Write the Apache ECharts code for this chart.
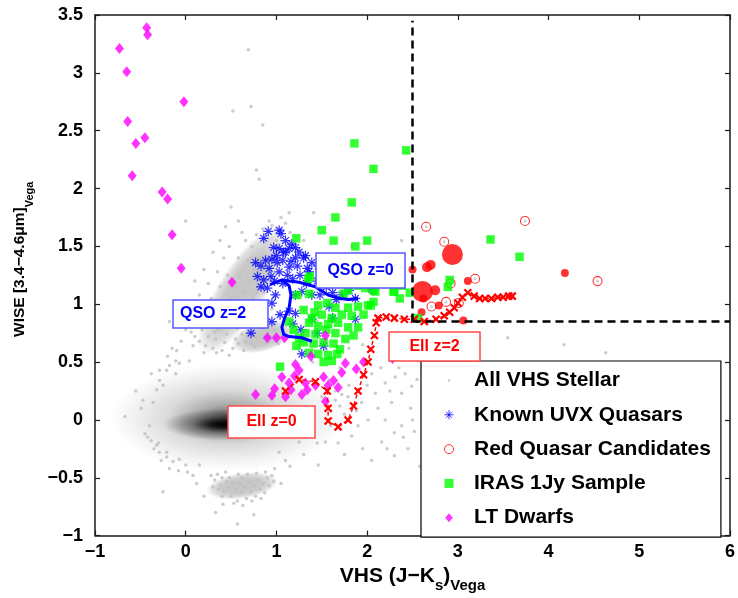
<!DOCTYPE html>
<html lang="en">
<head>
<meta charset="UTF-8">
<title>VHS / WISE colour-colour diagram</title>
<script src="https://cdn.jsdelivr.net/npm/echarts@6/dist/echarts.min.js"></script>
<style>html,body{margin:0;padding:0;background:#fff;}</style>
</head>
<body>
<div id="main" style="width:738px;height:598px;"></div>
<script type="text/javascript">
// axis ranges [min, max, step]
var xRange = [-1, 6, 1];
var yRange = [-1, 3.5, 0.5];

// colour cuts
var cutX = 2.5;
var cutY = 0.85;

// centres of the dense stellar regions (drawn as shaded clouds)
var stellarCore = [[0.46, 0.02], [0.41, -0.04]];
var stellarLocus = [[0.62, 1.12], [0.85, 0.72], [0.62, -0.57]];

// all VHS stellar sources (sparse part)
var stellarAll = [
  [0.10,0.72],[0.15,0.68],[0.18,0.78],[0.22,0.64],[0.25,0.72],[0.28,0.82],[0.30,0.62],[0.33,0.70],[0.36,0.78],[0.38,0.88],
  [0.40,0.60],[0.43,0.67],[0.45,0.74],[0.47,0.84],[0.50,0.94],[0.52,0.62],[0.55,0.70],[0.57,0.79],[0.60,0.88],[0.62,0.98],
  [0.64,0.60],[0.66,0.67],[0.68,0.75],[0.70,0.85],[0.72,0.95],[0.74,1.05],[0.76,0.63],[0.78,0.71],[0.80,0.80],[0.82,0.90],
  [0.84,1.00],[0.86,1.10],[0.88,0.66],[0.90,0.76],[0.92,0.86],[0.95,0.96],[0.97,1.06],[0.65,1.10],[0.70,1.20],[0.75,1.30],
  [0.80,1.40],[0.60,1.25],[0.68,1.38],[0.73,1.50],[0.85,1.55],[0.78,1.60],[0.95,1.68],[1.00,1.55],[0.55,1.15],[0.50,1.05],
  [0.45,0.98],[0.40,0.95],[0.35,0.90],[0.30,0.93],[0.25,0.88],[0.20,0.85],[0.58,1.40],[0.66,1.55],[1.10,1.70],[0.62,1.62],
  [0.92,1.72],[1.05,1.75],[0.85,1.65],[1.15,1.62],[1.30,1.55],
  [0.32,0.76],[0.42,0.80],[0.52,0.86],[0.58,0.66],[0.62,0.74],[0.72,0.66],[0.74,0.80],[0.86,0.80],[0.84,0.70],[0.94,0.70],
  [0.98,0.78],[1.02,0.66],[0.66,0.92],[0.76,0.98],[0.78,1.10],[0.68,1.02],[0.56,1.00],[0.88,1.22],[0.82,1.28],[0.72,1.40],
  [0.16,0.92],[0.12,0.82],[0.06,0.76],[0.08,0.64],[0.20,0.58],[0.34,0.58],[0.48,0.56],
  [0.69,3.20],[0.72,2.71],[0.52,2.67],[0.85,2.55],[0.78,2.16],[0.81,2.08],[0.50,1.84],[0.00,1.72],[1.14,1.79],[1.41,1.79],
  [0.10,1.20],[0.44,1.67],[0.30,1.45],[0.20,1.30],[0.38,1.55],[2.38,1.55],[1.83,1.50],[0.48,1.50],[0.58,1.72],[-0.04,0.91],
  [-0.18,0.85],[0.00,0.78],[0.05,1.00],[0.15,1.08],[0.25,1.18],[0.35,1.28],[0.42,1.40],[0.28,1.05],[0.38,1.15],[0.46,1.25],
  [-0.67,0.03],[-0.49,0.10],[-0.38,-0.18],[-0.32,-0.22],[-0.29,-0.28],[-0.21,-0.32],[-0.14,-0.36],[0.00,-0.39],[0.02,-0.45],[-0.38,0.40],
  [-0.29,0.43],[-0.18,0.47],[-0.07,0.49],[-0.11,0.40],[0.04,0.51],[-0.32,0.26],[-0.47,0.17],[-0.25,-0.62],[-0.40,-0.05],[-0.55,0.25],
  [-0.45,-0.12],[-0.25,0.30],[-0.20,0.55],[-0.10,0.60],[-0.35,-0.25],[-0.27,-0.35],[-0.18,-0.42],[-0.08,-0.44],[0.08,-0.48],[-0.30,-0.20],
  [-0.42,-0.15],[-0.15,0.62],[-0.05,0.68],[-0.36,0.15],[-0.29,0.34],[-0.21,0.43],[-0.11,0.51],[-0.21,-0.28],[-0.07,-0.34],[0.15,-0.39],
  [0.28,-0.48],[0.32,-0.52],[0.35,-0.47],[0.38,-0.56],[0.40,-0.50],[0.42,-0.62],[0.45,-0.53],[0.47,-0.58],[0.50,-0.66],[0.52,-0.54],
  [0.55,-0.60],[0.57,-0.70],[0.60,-0.55],[0.62,-0.63],[0.65,-0.58],[0.67,-0.68],[0.70,-0.54],[0.72,-0.62],[0.75,-0.57],[0.77,-0.66],
  [0.80,-0.52],[0.82,-0.60],[0.85,-0.55],[0.87,-0.63],[0.90,-0.50],[0.92,-0.57],[0.95,-0.48],[0.97,-0.53],[0.36,-0.60],[0.44,-0.45],
  [0.58,-0.47],[0.68,-0.47],[0.78,-0.46],[0.88,-0.45],[0.30,-0.58],[0.53,-0.72],[0.63,-0.74],[0.73,-0.70],[0.57,-0.90],[0.41,-0.73],
  [0.20,-0.66],[0.33,-0.80],[0.75,-0.82],[1.05,-0.55],[1.15,-0.40],[0.12,-0.55],[0.48,-0.50],[0.62,-0.50],[0.83,-0.68],[0.40,-0.66],
  [1.03,-0.28],[1.17,-0.14],[1.25,-0.19],[1.39,-0.05],[1.10,-0.35],[1.30,-0.30],[1.20,0.05],[1.35,0.10],[1.45,-0.20],[1.05,-0.10],[0.98,-0.42],
  [1.65,0.17],[1.79,0.20],[1.94,0.15],[2.09,0.23],[2.20,0.32],[2.31,0.37],[2.42,0.40],[2.27,0.15],[2.38,0.23],[2.49,0.29],
  [2.01,0.00],[2.20,0.00],[2.30,-0.11],[2.38,-0.05],[2.16,-0.19],[2.30,-0.31],[1.83,-0.14],[1.54,-0.19],[1.46,-0.39],[2.05,0.40],
  [2.44,0.58],[2.56,0.51],[1.60,0.08],[1.70,0.12],[1.75,0.05],[1.88,0.08],[1.65,0.25],[1.72,0.22],[2.12,0.10],[2.25,0.25],
  [2.48,0.10],[2.52,-0.10],[2.45,-0.25],[1.95,-0.25],[2.05,-0.35],[1.75,-0.30],[1.60,-0.05],[2.35,0.45],[2.15,0.45],[2.55,0.35],
  [2.50,0.00],[2.58,-0.40],[2.62,0.20],[3.55,0.71],[3.24,0.71],[4.17,0.65],[4.63,0.58],[2.70,0.65],[2.95,0.55],
  [1.30,0.95],[1.45,0.85],[1.55,0.60],[1.25,0.62],[1.40,0.50],[1.70,0.45],[1.80,0.62],[1.95,0.65],
  [1.50,0.20],[1.58,0.35],[1.80,0.30],[1.90,-0.05],[2.00,0.30],[2.40,-0.15],[1.68,-0.20],[2.22,-0.25]
];

// known UVX quasars
var uvxQuasars = [
  [0.91,1.63],[1.03,1.64],[1.05,1.61],[0.86,1.57],[0.97,1.49],[1.03,1.48],[1.08,1.45],[1.14,1.48],[1.21,1.49],[1.25,1.45],
  [1.21,1.40],[1.30,1.40],[0.88,1.38],[0.95,1.39],[1.01,1.36],[0.83,1.33],[0.92,1.31],[1.03,1.28],[1.14,1.32],[1.23,1.33],
  [1.34,1.31],[0.79,1.24],[0.86,1.21],[0.94,1.24],[1.12,1.25],[1.26,1.25],[0.83,1.15],[0.90,1.14],[0.99,1.08],[0.95,1.01],
  [1.21,1.08],[1.28,1.11],[1.04,0.91],[1.14,0.94],[1.21,0.92],[0.95,0.85],[0.84,0.83],[0.72,0.75],[1.39,1.08],[1.36,1.28],
  [1.72,1.08],[1.32,1.42],[1.10,1.45],[0.77,1.36],[1.39,1.36],[1.46,1.33],[2.05,1.13],[1.28,0.57],[1.48,1.08],[1.66,1.04],
  [1.87,1.05],[2.07,1.12],[1.87,0.87],[1.39,0.87],[1.52,0.64],[1.10,1.55],[1.17,1.52],[1.00,1.42],[1.07,1.38],[1.16,1.37],
  [0.98,1.20],[1.07,1.18],[1.18,1.22],[1.33,1.18],[1.45,1.20],[1.55,1.15],[1.62,1.10],[1.80,1.12],[1.58,0.98],[1.27,0.78],
  [1.18,0.83],[1.45,0.75],[1.62,0.88]
];

// red quasar candidates: open symbols, and filled ones in three sizes
var redCandidates = [[2.65,1.67],[2.85,1.54],[3.74,1.72],[3.19,1.22],[4.54,1.20],[2.92,1.18],[2.87,1.02],[2.71,0.98],[3.01,1.01]];
var redFilledLarge = [[2.94,1.43],[2.61,1.11]];
var redFilledMid = [[2.66,1.32],[2.70,1.34],[2.75,1.12]];
var redFilledSmall = [[2.50,1.30],[3.11,1.20],[4.18,1.27],[2.79,0.99],[2.60,0.93],[3.06,0.86],[2.62,1.05]];

// IRAS 1Jy sample
var iras1Jy = [
  [1.86,2.39],[2.43,2.33],[2.07,2.17],[1.83,1.88],[1.65,1.75],[1.50,1.64],[2.00,1.55],[1.63,1.55],[1.22,1.57],[1.87,1.50],
  [3.36,1.56],[3.68,1.41],[2.91,1.21],[2.89,1.15],[2.47,1.10],[2.36,1.21],[2.38,1.16],[2.29,1.11],[2.36,1.05],[2.56,0.88],
  [2.09,1.11],[2.04,0.99],[1.37,1.24],[1.90,1.16],[1.98,1.14],[2.30,1.11],[1.23,1.08],[1.36,1.09],[1.46,0.99],[1.56,1.01],
  [1.65,0.97],[1.79,0.97],[1.90,0.98],[2.01,0.99],[2.07,1.02],[1.96,0.91],[1.83,0.90],[1.72,0.91],[1.61,0.88],[1.50,0.91],
  [1.39,0.88],[1.36,0.84],[1.46,0.81],[1.57,0.83],[1.68,0.84],[1.79,0.80],[1.90,0.80],[1.32,0.75],[1.43,0.74],[1.65,0.75],
  [1.76,0.70],[1.30,0.67],[1.41,0.66],[1.52,0.67],[1.63,0.66],[1.70,0.61],[1.36,0.58],[1.46,0.57],[1.57,0.56],[1.67,0.57],
  [1.52,0.50],[1.61,0.51],[1.04,0.46],[1.19,0.78],[1.25,0.71],[1.14,0.85],[1.74,1.09],[1.79,1.16],[1.35,1.22],[2.07,1.12],
  [1.79,1.12],[1.55,0.78],[1.85,0.73],[1.30,0.95],[1.42,0.93],[1.22,0.64]
];

// L and T dwarfs
var ltDwarfs = [
  [-0.73,3.21],[-0.43,3.39],[-0.42,3.33],[-0.65,3.01],[-0.02,2.75],[-0.64,2.58],[-0.45,2.44],[-0.55,2.39],[-0.59,2.11],[-0.26,1.97],
  [-0.20,1.91],[-0.15,1.60],[-0.05,1.31],[0.51,1.19],[0.90,0.71],[1.00,0.71],[1.09,0.71],[1.54,0.73],[1.38,0.55],[1.21,0.48],
  [1.25,0.43],[1.76,0.49],[1.88,0.44],[1.96,0.50],[1.72,0.41],[1.52,0.37],[1.63,0.34],[1.57,0.30],[1.06,0.37],[1.14,0.32],
  [1.32,0.32],[0.98,0.27],[1.16,0.26],[1.34,0.26],[1.28,0.22],[1.54,0.16],[0.77,0.22],[0.95,0.21],[1.20,0.38],[1.43,0.30],
  [2.28,0.53],[1.68,0.28],[1.10,0.20]
];

// elliptical galaxy track z=0 -> z=2
var ellTrack = [
  [1.10,0.25],[1.25,0.35],[1.43,0.33],[1.56,0.25],[1.57,0.10],[1.57,-0.01],[1.68,-0.06],[1.79,0.00],[1.85,0.12],[1.90,0.25],
  [1.96,0.39],[2.01,0.50],[2.04,0.61],[2.08,0.73],[2.10,0.84],[2.12,0.88],[2.21,0.89],[2.30,0.88],[2.41,0.87],[2.52,0.87],
  [2.63,0.85],[2.76,0.87],[2.85,0.90],[2.91,0.93],[2.96,0.97],[3.00,1.01],[3.05,1.06],[3.11,1.10],[3.18,1.07],[3.24,1.05],
  [3.30,1.05],[3.37,1.05],[3.44,1.06],[3.50,1.06],[3.56,1.07],[3.60,1.07]
];

// QSO tracks
var qsoTrackA = [[0.93,1.17],[1.06,1.21],[1.14,1.20],[1.25,1.19],[1.43,1.15],[1.57,1.08],[1.70,1.05],[1.80,1.04],[1.90,1.05]];
var qsoTrackB = [[1.06,1.21],[1.14,1.16],[1.16,1.08],[1.14,0.97],[1.09,0.88],[1.06,0.80],[1.08,0.74],[1.14,0.72],[1.28,0.71],[1.39,0.68]];

var FONT = '"Liberation Sans", Arial, Helvetica, sans-serif';
var ASTERISK = 'path://M5,0L5,10M0,5L10,5M1.6,1.6L8.4,8.4M8.4,1.6L1.6,8.4';
var CROSS = 'path://M0,0L10,10M10,0L0,10';
var DIAMOND = 'path://M5,0L10,6L5,12L0,6Z';
var SQUARE = 'path://M0,0L10,0L10,10L0,10Z';
var DOT = 'path://M0,0M10,10M3.5,5A1.5,1.5,0,1,1,6.5,5A1.5,1.5,0,1,1,3.5,5Z';

function minus(v) { return String(v).replace('-', '\u2212'); }

function frameAxis(position, range, extra) {
    var ax = {
        type: 'value', position: position, min: range[0], max: range[1], interval: range[2],
        axisLine: { onZero: false, lineStyle: { color: '#1a1a1a', width: 1.5 } },
        axisTick: { inside: true, length: 5, lineStyle: { color: '#1a1a1a', width: 1.2 } },
        axisLabel: { show: false },
        splitLine: { show: false }
    };
    return Object.assign(ax, extra || {});
}

var tickFont = { show: true, fontSize: 18, fontWeight: 'bold', color: '#000', fontFamily: FONT, formatter: minus };

var chart = echarts.init(document.getElementById('main'));

chart.setOption({
    animation: false,
    backgroundColor: '#fff',
    grid: { left: 95, right: 5, top: 15, bottom: 53 },
    xAxis: [
        frameAxis('bottom', xRange, {
            axisLabel: Object.assign({ margin: 7 }, tickFont),
            name: '{m|VHS (J\u2212K}{s|s}{m|)}{s|Vega}',
            nameLocation: 'middle', nameGap: 16,
            nameTextStyle: {
                rich: {
                    m: { fontSize: 21, fontWeight: 'bold', fontFamily: FONT, color: '#000', lineHeight: 34 },
                    s: { fontSize: 15, fontWeight: 'bold', fontFamily: FONT, color: '#000', lineHeight: 15, verticalAlign: 'bottom' }
                }
            }
        }),
        frameAxis('top', xRange)
    ],
    yAxis: [
        frameAxis('left', yRange, {
            axisLabel: Object.assign({ margin: 12 }, tickFont),
            name: '{m|WISE [3.4\u22124.6\u03bcm]}{s|Vega}',
            nameLocation: 'middle', nameGap: 60,
            nameTextStyle: {
                padding: [0, 0, 0, 32],
                rich: {
                    m: { fontSize: 15.5, fontWeight: 'bold', fontFamily: FONT, color: '#000', lineHeight: 31 },
                    s: { fontSize: 11, fontWeight: 'bold', fontFamily: FONT, color: '#000', lineHeight: 11, verticalAlign: 'bottom' }
                }
            }
        }),
        frameAxis('right', yRange)
    ],
    legend: {
        orient: 'vertical', left: 421, top: 361,
        padding: [9, 10, 9, 23], itemGap: 13.3, itemWidth: 40, itemHeight: 9,
        backgroundColor: '#fff', borderColor: '#000', borderWidth: 1.2,
        selectedMode: false, z: 20,
        itemStyle: { borderWidth: 1 },
        textStyle: { fontSize: 21, fontWeight: 'bold', color: '#000', fontFamily: FONT, lineHeight: 20 },
        data: [
            { name: 'All VHS Stellar', icon: DOT },
            { name: 'Known UVX Quasars', icon: ASTERISK },
            { name: 'Red Quasar Candidates', icon: 'circle' },
            { name: 'IRAS 1Jy Sample', icon: SQUARE },
            { name: 'LT Dwarfs', icon: DIAMOND }
        ]
    },
    series: [
        { name: 'All VHS Stellar', type: 'scatter', data: stellarAll, symbol: 'circle', symbolSize: 3.5,
          itemStyle: { color: '#bfbfbf' }, z: 2, silent: true },
        { name: 'Known UVX Quasars', type: 'scatter', data: uvxQuasars, symbol: ASTERISK, symbolSize: 10,
          itemStyle: { color: 'rgba(0,0,0,0)', borderColor: '#0000ff', borderWidth: 1.2 }, z: 3, silent: true },
        { name: 'Red Quasar Candidates', type: 'scatter', data: redCandidates, symbol: 'circle', symbolSize: 9,
          itemStyle: { color: '#fff', borderColor: '#ff0000', borderWidth: 1.1 }, z: 4, silent: true },
        { name: 'candidate centres', type: 'scatter', data: redCandidates, symbol: 'circle', symbolSize: 3,
          itemStyle: { color: '#c4c4c4' }, z: 4, silent: true },
        { name: 'red filled L', type: 'scatter', data: redFilledLarge, symbol: 'circle', symbolSize: 21,
          itemStyle: { color: '#ff0000' }, z: 4, silent: true },
        { name: 'red filled M', type: 'scatter', data: redFilledMid, symbol: 'circle', symbolSize: 10,
          itemStyle: { color: '#ff0000' }, z: 4, silent: true },
        { name: 'red filled S', type: 'scatter', data: redFilledSmall, symbol: 'circle', symbolSize: 8,
          itemStyle: { color: '#ff0000' }, z: 4, silent: true },
        { name: 'IRAS 1Jy Sample', type: 'scatter', data: iras1Jy, symbol: SQUARE, symbolSize: 8.5,
          itemStyle: { color: '#00ff00' }, z: 5, silent: true },
        { name: 'LT Dwarfs', type: 'scatter', data: ltDwarfs, symbol: DIAMOND, symbolSize: [9, 11],
          itemStyle: { color: '#ff00ff' }, z: 6, silent: true },
        { name: 'Ell track', type: 'line', data: ellTrack, symbol: CROSS, symbolSize: 7, showSymbol: true,
          itemStyle: { color: 'rgba(0,0,0,0)', borderColor: '#ff0000', borderWidth: 2.2 },
          lineStyle: { color: '#ff0000', width: 1.4, type: [4, 3] }, z: 7, silent: true },
        { name: 'QSO track A', type: 'line', data: qsoTrackA, symbol: 'none',
          lineStyle: { color: '#0000ff', width: 3 }, z: 8, silent: true },
        { name: 'QSO track B', type: 'line', data: qsoTrackB, symbol: 'none',
          lineStyle: { color: '#0000ff', width: 3 }, z: 8, silent: true },
        { name: 'cut vertical', type: 'line', data: [[cutX, cutY], [cutX, 3.45]], symbol: 'none',
          lineStyle: { color: '#000', width: 2.5, type: [8, 5] }, z: 9, silent: true },
        { name: 'cut horizontal', type: 'line', data: [[cutX, cutY], [xRange[1], cutY]], symbol: 'none',
          lineStyle: { color: '#000', width: 2.5, type: [8, 5] }, z: 9, silent: true }
    ]
});

// soft clouds for the dense parts of the stellar locus
function cloud(centre, s, rgb, z) {
    var px = chart.convertToPixel({ gridIndex: 0 }, centre);
    return {
        type: 'circle', x: px[0], y: px[1], scaleX: s.rx / 50, scaleY: s.ry / 50,
        rotation: (s.rot || 0) * Math.PI / 180, z: z, silent: true,
        shape: { cx: 0, cy: 0, r: 50 },
        style: { fill: new echarts.graphic.RadialGradient(0.5, 0.5, 0.5, s.stops.map(function (st) {
            return { offset: st[0], color: 'rgba(' + rgb + ',' + st[1] + ')' };
        })) }
    };
}
var coreShapes = [
    { rx: 118, ry: 54, stops: [[0, 0.6], [0.25, 0.32], [0.5, 0.15], [0.8, 0.05], [1, 0]] },
    { rx: 60, ry: 16, stops: [[0, 1], [0.2, 0.85], [0.5, 0.4], [1, 0]] }
];
var locusStops = [[0, 1], [0.55, 0.95], [0.8, 0.6], [1, 0]];
var locusShapes = [
    { rx: 74, ry: 24, rot: 58, stops: locusStops },
    { rx: 32, ry: 15, rot: 15, stops: locusStops },
    { rx: 36, ry: 13, rot: 8, stops: locusStops }
];
var graphics = [];
stellarLocus.forEach(function (p, i) { graphics.push(cloud(p, locusShapes[i], '198,198,198', 1)); });
stellarCore.forEach(function (p, i) { graphics.push(cloud(p, coreShapes[i], '0,0,0', 1)); });

// text boxes
var boxes = [
    { text: 'QSO z=0', rect: [316, 253, 89, 35], color: '#0000ff', edge: '#5555ff', align: 'center' },
    { text: 'QSO z=2', rect: [173, 300, 95, 28], color: '#0000ff', edge: '#5555ff', align: 'left' },
    { text: 'Ell z=0', rect: [228, 406, 87, 32], color: '#ff0000', edge: '#ff4a4a', align: 'center' },
    { text: 'Ell z=2', rect: [389, 332, 91, 29], color: '#ff0000', edge: '#ff4a4a', align: 'center' }
];
boxes.forEach(function (b) {
    graphics.push({
        type: 'rect', z: 50, silent: true,
        shape: { x: b.rect[0], y: b.rect[1], width: b.rect[2], height: b.rect[3] },
        style: { fill: '#fff', stroke: b.edge, lineWidth: 1.5 }
    });
    graphics.push({
        type: 'text', z: 51, silent: true,
        x: b.align === 'left' ? b.rect[0] + 7 : b.rect[0] + b.rect[2] / 2,
        y: b.rect[1] + b.rect[3] / 2,
        style: { text: b.text, fill: b.color, fontSize: 16, fontWeight: 'bold', fontFamily: FONT,
                 align: b.align, verticalAlign: 'middle' }
    });
});

chart.setOption({ graphic: graphics });
</script>
</body>
</html>
